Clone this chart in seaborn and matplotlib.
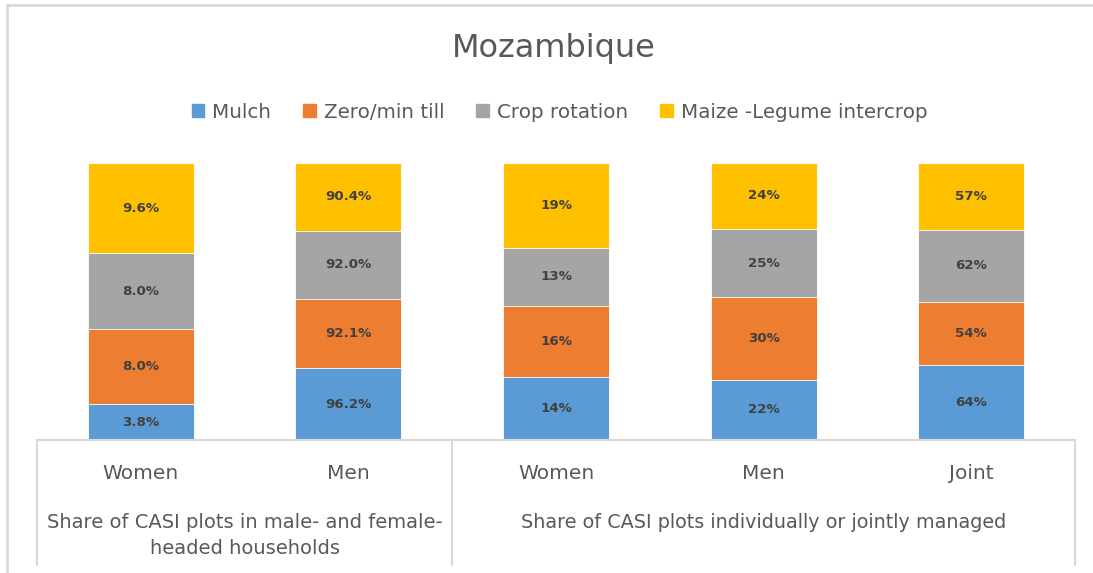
import pandas as pd
import seaborn as sns
import matplotlib.pyplot as plt
import matplotlib.transforms as mtransforms

# Data
BAR_IDS = ["hh_women", "hh_men", "ind_women", "ind_men", "ind_joint"]
BAR_LABELS = ["Women", "Men", "Women", "Men", "Joint"]
SERIES = ["Mulch", "Zero/min till", "Crop rotation", "Maize -Legume intercrop"]
MULCH = [3.8, 96.2, 14, 22, 64]
ZERO_TILL = [8.0, 92.1, 16, 30, 54]
CROP_ROT = [8.0, 92.0, 13, 25, 62]
MAIZE_LEG = [9.6, 90.4, 19, 24, 57]
LABEL_FMT = ["{:.1f}%", "{:.1f}%", "{:.0f}%", "{:.0f}%", "{:.0f}%"]
GROUPS = ["Share of CASI plots in male- and female-\nheaded households",
          "Share of CASI plots individually or jointly managed"]
COLORS = ["#5B9BD5", "#ED7D31", "#A5A5A5", "#FFC000"]

sns.set_theme(style="white")
plt.rcParams['font.family'] = ['DejaVu Sans']
TXT = "#595959"

df = pd.DataFrame({"bar": BAR_IDS, SERIES[0]: MULCH, SERIES[1]: ZERO_TILL,
                   SERIES[2]: CROP_ROT, SERIES[3]: MAIZE_LEG})
vals = df[SERIES]
share = vals.div(vals.sum(axis=1), axis=0)
cum = share.cumsum(axis=1)
bottoms = cum - share

fig = plt.figure(figsize=(10.93, 5.73), dpi=100)
ax = fig.add_axes([37 / 1093, 1 - 440 / 573, 1038 / 1093, 277 / 573])

# draw top layer first so lower layers cover it
for i in reversed(range(len(SERIES))):
    s = SERIES[i]
    sns.barplot(x=df["bar"], y=cum[s], order=BAR_IDS, color=COLORS[i],
                width=0.51, saturation=1, edgecolor="white", linewidth=0.6,
                ax=ax, label=s, legend=False)

for j in range(len(BAR_IDS)):
    for s in SERIES:
        yc = bottoms.loc[j, s] + share.loc[j, s] / 2
        ax.text(j, yc, LABEL_FMT[j].format(df.loc[j, s]), ha="center", va="center",
                fontsize=9.6, fontweight="bold", color="#404040")

ax.set_xlim(-0.5, len(BAR_IDS) - 0.5)
ax.set_ylim(0, 1)
ax.set_xticks([])
ax.set_yticks([])
ax.set_xlabel("")
ax.set_ylabel("")
for sp in ax.spines.values():
    sp.set_visible(False)

# multi-level category axis
line_c = "#D9D9D9"
trans = mtransforms.blended_transform_factory(ax.transData, ax.transAxes)
ax.plot([-0.5, 4.5], [0, 0], color=line_c, lw=1.5, transform=trans, clip_on=False)
for xv in [-0.5, 1.5, 4.5]:
    ax.plot([xv, xv], [0, -0.451], color=line_c, lw=1.5, transform=trans, clip_on=False)
for j, lab in enumerate(BAR_LABELS):
    ax.text(j, -0.12, lab, ha="center", va="center", fontsize=14.5, color=TXT, transform=trans)
ax.text(0.5, -0.265, GROUPS[0], ha="center", va="top", fontsize=14, color=TXT,
        transform=trans, linespacing=1.45)
ax.text(3.0, -0.265, GROUPS[1], ha="center", va="top", fontsize=13.8, color=TXT,
        transform=trans)

# legend
handles = [plt.Rectangle((0, 0), 1, 1, color=c) for c in COLORS]
fig.legend(handles, SERIES, loc="center", bbox_to_anchor=(0.512, 1 - 112 / 573),
           ncol=4, frameon=False, fontsize=14.3, handlelength=0.65, handleheight=0.65,
           handletextpad=0.4, columnspacing=1.6, labelcolor=TXT)

fig.text(0.507, 1 - 48 / 573, "Mozambique", ha="center", va="center", fontsize=23, color=TXT)

# chart frame
fig.add_artist(plt.Line2D([7 / 1093, 7 / 1093], [0, 1 - 5 / 573], color=line_c, lw=2))
fig.add_artist(plt.Line2D([7 / 1093, 1], [1 - 5 / 573, 1 - 5 / 573], color=line_c, lw=2))

fig.savefig("out.png", dpi=100)
